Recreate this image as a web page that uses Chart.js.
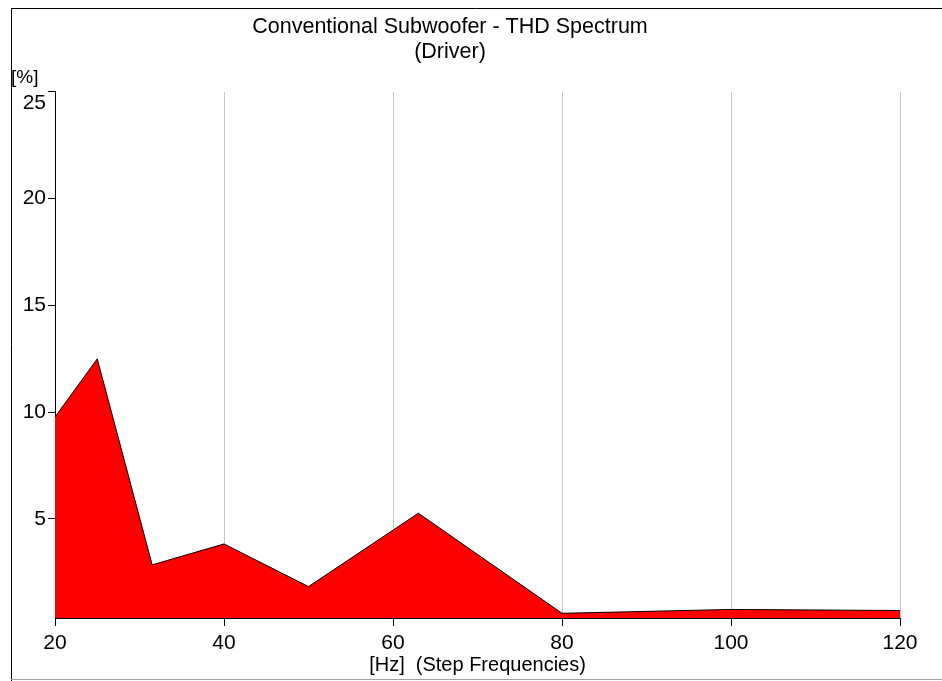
<!DOCTYPE html>
<html>
<head>
<meta charset="utf-8">
<script src="https://cdn.jsdelivr.net/npm/chart.js@4/dist/chart.umd.min.js"></script>
<style>
html,body{margin:0;padding:0;background:#fff;}
#wrap{width:942px;height:681px;position:relative;}
</style>
</head>
<body>
<div id="wrap"><canvas id="c" width="942" height="681"></canvas></div>
<script>
// Data
const frequencies = [20, 25, 31.5, 40, 50, 63, 80, 100, 120];
const thdPercent = [9.77, 12.49, 2.84, 3.82, 1.82, 5.26, 0.57, 0.75, 0.70];
const yTickValues = [5, 10, 15, 20, 25];
const xTickValues = [20, 40, 60, 80, 100, 120];
const titleLines = ['Conventional Subwoofer - THD Spectrum', '(Driver)'];
const xAxisTitle = '[Hz]  (Step Frequencies)';
const yAxisUnit = '[%]';

const FONT = 'Liberation Sans, Arial, sans-serif';

const framePlugin = {
  id: 'frame',
  beforeDraw(chart) {
    // push the top y label below the axis end, as in the reference
    const ys = chart.scales.y;
    const items = ys.getLabelItems();
    items.forEach(it => {
      if (it.label === '25' && it.options && it.options.translation) {
        it.options.translation = [it.options.translation[0], it.options.translation[1] + 11];
      }
    });
  },
  afterDraw(chart) {
    const ctx = chart.ctx;
    ctx.save();
    ctx.lineWidth = 1;
    ctx.strokeStyle = '#000';
    ctx.beginPath();
    ctx.moveTo(11, 8.5); ctx.lineTo(942, 8.5);
    ctx.moveTo(11.5, 8); ctx.lineTo(11.5, 681);
    ctx.stroke();
    ctx.strokeStyle = '#a0a0a0';
    ctx.beginPath();
    ctx.moveTo(11, 679.5); ctx.lineTo(942, 679.5);
    ctx.stroke();
    ctx.fillStyle = '#000';
    ctx.font = '19px ' + FONT;
    ctx.textAlign = 'left';
    ctx.textBaseline = 'middle';
    ctx.fillText(yAxisUnit, 11, 78);
    ctx.restore();
  }
};

new Chart(document.getElementById('c'), {
  type: 'line',
  data: {
    datasets: [{
      data: frequencies.map((f, i) => ({x: f, y: thdPercent[i]})),
      borderColor: '#000',
      borderWidth: 1,
      backgroundColor: '#ff0000',
      fill: 'start',
      pointRadius: 0,
      tension: 0
    }]
  },
  options: {
    responsive: false,
    animation: false,
    devicePixelRatio: 1,
    layout: {padding: {left: 0, right: 42, top: 0, bottom: 0}},
    plugins: {
      legend: {display: false},
      tooltip: {enabled: false},
      title: {
        display: true,
        text: titleLines,
        color: '#000',
        font: {family: FONT, size: 21.5, weight: 'normal', lineHeight: 1.16},
        padding: {top: 15, bottom: 27}
      }
    },
    scales: {
      x: {
        type: 'linear',
        min: 20,
        max: 120,
        afterBuildTicks: s => { s.ticks = xTickValues.map(v => ({value: v})); },
        afterFit: s => { s.height = 63; },
        border: {color: '#000', width: 1},
        grid: {color: '#c8c8c8', tickColor: '#000', tickLength: 8, lineWidth: 1},
        ticks: {color: '#000', font: {family: FONT, size: 21}, padding: 5, maxRotation: 0},
        title: {display: true, text: xAxisTitle, color: '#000',
                font: {family: FONT, size: 20}, padding: {top: 0, bottom: 4}}
      },
      y: {
        type: 'linear',
        min: 0.35,
        max: 25,
        afterBuildTicks: s => { s.ticks = yTickValues.map(v => ({value: v})); },
        afterFit: s => { s.width = 55; },
        border: {color: '#000', width: 1},
        grid: {drawOnChartArea: false, tickColor: '#000', tickLength: 7},
        ticks: {color: '#000', font: {family: FONT, size: 21}, padding: 2}
      }
    }
  },
  plugins: [framePlugin]
});
</script>
</body>
</html>
